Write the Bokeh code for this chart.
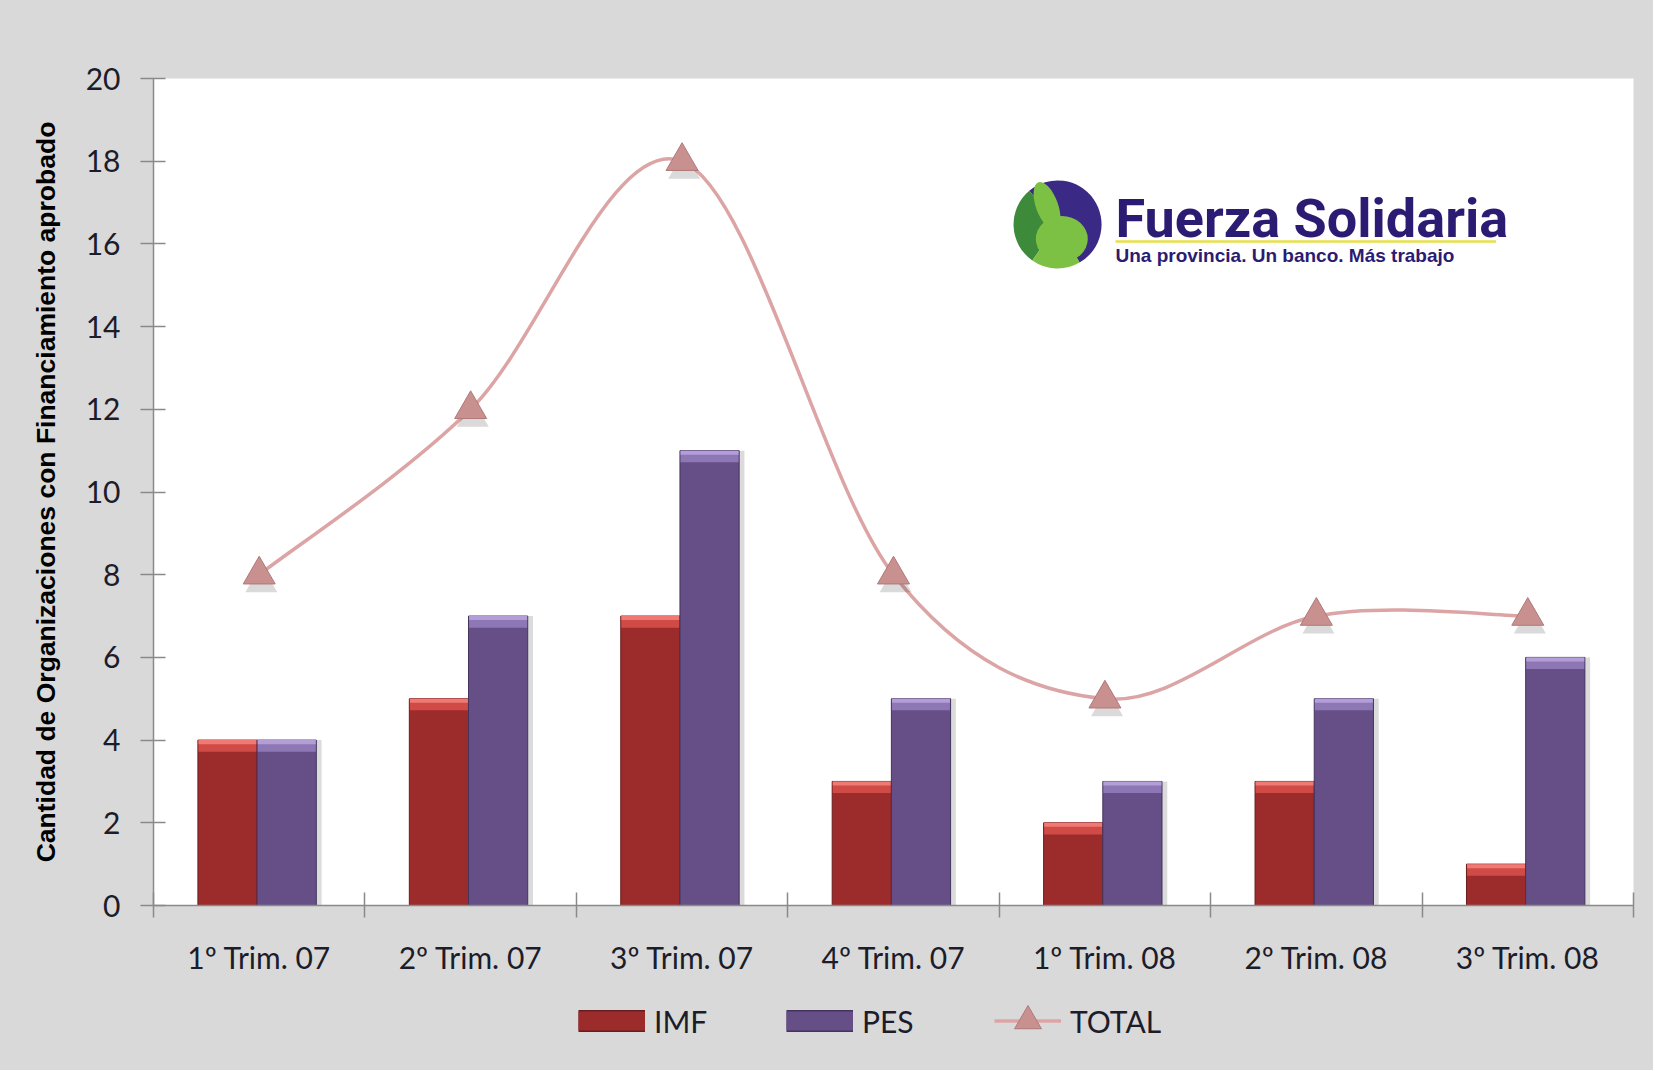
import numpy as np
from bokeh.plotting import figure
from bokeh.layouts import column
from bokeh.models import Range1d, FixedTicker, Legend, LegendItem
from bokeh.core.properties import value
from bokeh.embed import file_html
from bokeh.resources import INLINE

# ---------------- data ----------------
categories = ["1º Trim. 07", "2º Trim. 07", "3º Trim. 07", "4º Trim. 07",
              "1º Trim. 08", "2º Trim. 08", "3º Trim. 08"]
imf = [4, 5, 7, 3, 2, 3, 1]
pes = [4, 7, 11, 5, 3, 5, 6]
total = [8, 12, 18, 8, 5, 7, 7]
y_ticks = [0, 2, 4, 6, 8, 10, 12, 14, 16, 18, 20]
y_label = "Cantidad de Organizaciones con Financiamiento aprobado"

# ---------------- geometry / style ----------------
n = len(categories)
centers = np.arange(n) + 0.5
BW = 0.28
SHIFT = -0.01
x_imf = centers - BW / 2 + SHIFT
x_pes = centers + BW / 2 + SHIFT
imf_a = np.array(imf, dtype=float)
pes_a = np.array(pes, dtype=float)
tot_a = np.array(total, dtype=float)

AX = "#8a8a8a"
BG = "#d9d9d9"
TXT = "#1c1c2a"
W = 1653
FS = "30px"

p = figure(frame_width=1480, frame_height=827,
           x_range=Range1d(0, n), y_range=Range1d(0, 20),
           output_backend="svg", toolbar_location=None,
           background_fill_color="white", border_fill_color=BG,
           min_border_left=153, min_border_top=78, min_border_right=20,
           min_border_bottom=85)
p.outline_line_color = None
p.grid.visible = False

# y axis
ya = p.yaxis[0]
ya.ticker = FixedTicker(ticks=y_ticks)
ya.axis_line_color = AX
ya.axis_line_width = 1.5
ya.major_tick_line_color = AX
ya.major_tick_line_width = 1.5
ya.major_tick_in = 12
ya.major_tick_out = 13
ya.minor_tick_line_color = None
ya.major_label_text_font = "Lato"
ya.major_label_text_font_size = FS
ya.major_label_text_color = TXT
ya.major_label_standoff = 20
ya.axis_label = y_label
ya.axis_label_text_font = "Liberation Sans"
ya.axis_label_text_font_style = "bold"
ya.axis_label_text_font_size = "26.5px"
ya.axis_label_text_color = "#000000"
ya.axis_label_standoff = 22

# x axis: boundary ticks as minor ticks, category labels at centers
xa = p.xaxis[0]
xa.ticker = FixedTicker(ticks=list(centers), minor_ticks=list(range(n + 1)))
xa.major_label_overrides = {float(c): name for c, name in zip(centers, categories)}
xa.axis_line_color = AX
xa.axis_line_width = 1.5
xa.major_tick_line_color = None
xa.major_tick_in = 0
xa.major_tick_out = 12
xa.minor_tick_line_color = AX
xa.minor_tick_line_width = 1.5
xa.minor_tick_in = 13
xa.minor_tick_out = 12
xa.major_label_text_font = "Lato"
xa.major_label_text_font_size = FS
xa.major_label_text_color = TXT
xa.major_label_standoff = 21

# ---------------- bars ----------------
CAP = 0.28
p.vbar(x=x_imf + 0.02, top=imf_a, bottom=0, width=BW, fill_color="#000000",
       fill_alpha=0.10, line_color=None)
p.vbar(x=x_pes + 0.025, top=pes_a, bottom=0, width=BW, fill_color="#000000",
       fill_alpha=0.14, line_color=None)

IMF_C, IMF_L, IMF_D = "#9c2b2b", "#e0605a", "#6a1c1c"
PES_C, PES_L, PES_D = "#664f87", "#a38cc9", "#43335e"

p.vbar(x=x_imf, top=imf_a, bottom=0, width=BW, fill_color=IMF_C,
       line_color=IMF_D, line_width=1)
p.vbar(x=x_imf, top=imf_a, bottom=imf_a - CAP, width=BW * 0.98,
       fill_color="#d04a46", line_color=None)
p.vbar(x=x_imf, top=imf_a, bottom=imf_a - CAP * 0.35, width=BW * 0.98,
       fill_color="#ef7a74", line_color=None)

p.vbar(x=x_pes, top=pes_a, bottom=0, width=BW, fill_color=PES_C,
       line_color=PES_D, line_width=1)
p.vbar(x=x_pes, top=pes_a, bottom=pes_a - CAP, width=BW * 0.98,
       fill_color="#8e77b5", line_color=None)
p.vbar(x=x_pes, top=pes_a, bottom=pes_a - CAP * 0.35, width=BW * 0.98,
       fill_color="#b39ed8", line_color=None)

# ---------------- smoothed TOTAL line (Catmull-Rom -> Bezier) ----------------
x0s, y0s, x1s, y1s, cx0s, cy0s, cx1s, cy1s = ([] for _ in range(8))
for i in range(n - 1):
    a = max(i - 1, 0)
    d = min(i + 2, n - 1)
    x0s.append(centers[i]); y0s.append(tot_a[i])
    x1s.append(centers[i + 1]); y1s.append(tot_a[i + 1])
    cx0s.append(centers[i] + (centers[i + 1] - centers[a]) / 6)
    cy0s.append(tot_a[i] + (tot_a[i + 1] - tot_a[a]) / 6)
    cx1s.append(centers[i + 1] - (centers[d] - centers[i]) / 6)
    cy1s.append(tot_a[i + 1] - (tot_a[d] - tot_a[i]) / 6)

LINE = "#dca4a4"
TRI_F, TRI_L = "#c99090", "#b07878"
p.bezier(x0=x0s, y0=y0s, x1=x1s, y1=y1s, cx0=cx0s, cy0=cy0s, cx1=cx1s, cy1=cy1s,
         line_color=LINE, line_width=3.5)
p.scatter(centers + 0.01, tot_a - 0.2, marker="triangle", size=32,
          fill_color="#333333", fill_alpha=0.18, line_color=None)
p.scatter(centers, tot_a, marker="triangle", size=32,
          fill_color=TRI_F, line_color=TRI_L, line_width=1)

# ---------------- logo ----------------
lx, ly = 4.276, 16.47
p.wedge(x=lx, y=ly, radius=44, radius_units="screen", start_angle=-60, end_angle=130,
        start_angle_units="deg", end_angle_units="deg", fill_color="#3b2a85", line_color=None)
p.wedge(x=lx, y=ly, radius=44, radius_units="screen", start_angle=130, end_angle=235,
        start_angle_units="deg", end_angle_units="deg", fill_color="#3c8a3a", line_color=None)
p.wedge(x=lx, y=ly, radius=44, radius_units="screen", start_angle=235, end_angle=300,
        start_angle_units="deg", end_angle_units="deg", fill_color="#7dc144", line_color=None)
p.ellipse(x=lx + 0.02, y=ly - 0.35, width=52, height=46, width_units="screen",
          height_units="screen", fill_color="#7dc144", line_color=None)
p.ellipse(x=lx - 0.05, y=ly + 0.45, width=22, height=50, width_units="screen",
          height_units="screen", angle=0.35, fill_color="#7dc144", line_color=None)
p.segment(x0=4.55, y0=16.06, x1=6.35, y1=16.06, line_color="#e8e04a", line_width=2.5)
p.text(x=[4.55], y=[16.61], text=["Fuerza Solidaria"], text_font=value("Roboto"),
       text_font_style="bold", text_font_size="54px", text_color="#2c1b72",
       text_baseline="alphabetic", text_align="left")
p.text(x=[4.55], y=[15.73], text=["Una provincia. Un banco. Más trabajo"],
       text_font=value("Liberation Sans"), text_font_style="bold", text_font_size="19px",
       text_color="#2c1b72", text_baseline="alphabetic", text_align="left")

# ---------------- legend strip (second figure, same gray) ----------------
q = figure(width=W, height=80, x_range=Range1d(0, 1), y_range=Range1d(0, 1),
           output_backend="svg", toolbar_location=None,
           background_fill_color=None, border_fill_color=BG,
           min_border_left=0, min_border_right=0, min_border_top=0, min_border_bottom=0)
q.axis.visible = False
q.grid.visible = False
q.outline_line_color = None

imf_leg = [q.line(centers, imf_a, line_color=IMF_D, line_width=22, line_cap="butt", visible=False),
           q.line(centers, imf_a, line_color=IMF_C, line_width=19, line_cap="butt", visible=False)]
pes_leg = [q.line(centers, pes_a, line_color=PES_D, line_width=22, line_cap="butt", visible=False),
           q.line(centers, pes_a, line_color=PES_C, line_width=19, line_cap="butt", visible=False)]
tot_leg = [q.line(centers, tot_a, line_color=LINE, line_width=3.5, visible=False),
           q.scatter(centers, tot_a, marker="triangle", size=32, fill_color=TRI_F,
                     line_color=TRI_L, line_width=1, visible=False)]

legend = Legend(items=[LegendItem(label="IMF", renderers=imf_leg),
                       LegendItem(label="PES", renderers=pes_leg),
                       LegendItem(label="TOTAL", renderers=tot_leg)],
                orientation="horizontal", location=(425, 16), padding=0, margin=0,
                border_line_color=None, background_fill_alpha=0,
                label_text_font="Lato", label_text_font_size=FS,
                label_text_color=TXT, glyph_width=67, glyph_height=67,
                label_standoff=9, label_width=124, spacing=8)
q.add_layout(legend, "center")

layout = column(p, q, spacing=0, styles={"background-color": BG})
open("out.html", "w").write(file_html(layout, INLINE))
